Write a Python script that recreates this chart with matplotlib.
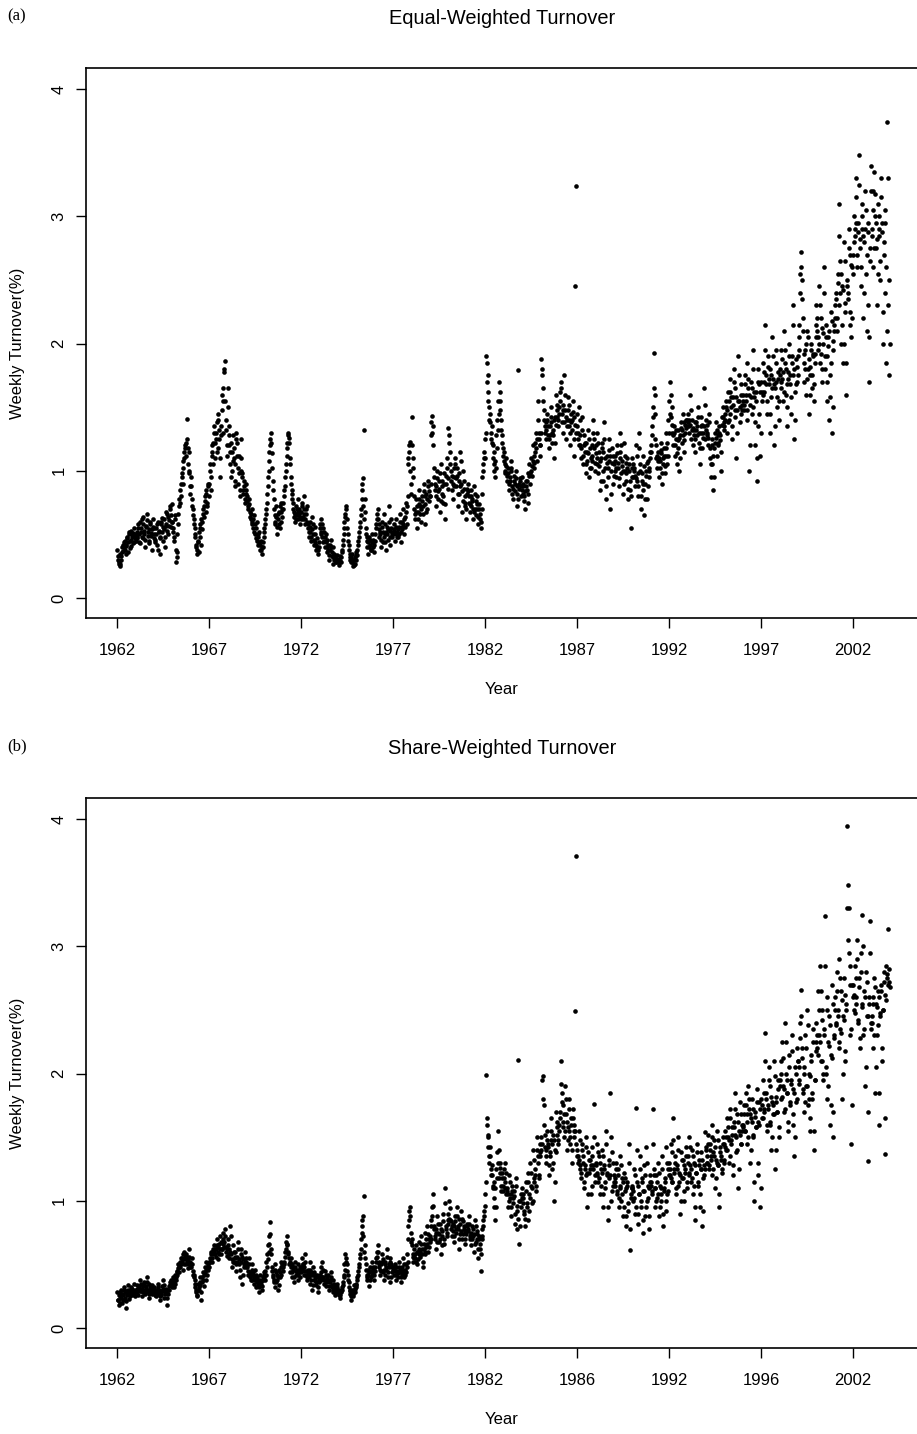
import matplotlib
matplotlib.use("Agg")
import matplotlib.pyplot as plt
import numpy as np

plt.rcParams["font.family"] = ["Liberation Sans", "DejaVu Sans"]

# weekly turnover (%), one row per year (1962-2003)
# "_rows" hold the first week of each fortnight, "_alt_rows" the second
years = list(range(1962, 2004))

equal_rows = [
    [0.38, 0.33, 0.27, 0.25, 0.30, 0.36, 0.42, 0.40, 0.45, 0.35, 0.41, 0.48, 0.44, 0.52, 0.39, 0.46, 0.50, 0.43, 0.55, 0.47],
    [0.45, 0.52, 0.48, 0.58, 0.50, 0.43, 0.55, 0.62, 0.47, 0.53, 0.40, 0.57, 0.66, 0.49, 0.54, 0.45, 0.60, 0.51, 0.38, 0.56],
    [0.50, 0.46, 0.55, 0.42, 0.60, 0.52, 0.35, 0.48, 0.58, 0.63, 0.45, 0.54, 0.40, 0.57, 0.66, 0.50, 0.61, 0.70, 0.56, 0.74],
    [0.60, 0.52, 0.45, 0.65, 0.28, 0.36, 0.58, 0.72, 0.85, 0.80, 0.95, 1.02, 0.90, 1.10, 1.18, 1.22, 1.41, 1.05, 1.15, 0.88],
    [0.95, 0.78, 0.70, 0.62, 0.55, 0.48, 0.40, 0.35, 0.45, 0.52, 0.58, 0.42, 0.60, 0.66, 0.72, 0.80, 0.68, 0.85, 0.75, 0.90],
    [0.90, 1.05, 0.85, 1.15, 1.22, 1.30, 1.10, 1.25, 1.38, 1.18, 1.45, 1.32, 0.95, 1.28, 1.60, 1.55, 1.80, 1.86, 1.40, 1.20],
    [1.65, 1.35, 1.20, 1.05, 0.95, 1.15, 1.28, 1.10, 0.88, 1.30, 1.22, 1.02, 1.12, 0.80, 1.00, 1.25, 0.98, 0.85, 0.92, 0.78],
    [0.85, 0.80, 0.72, 0.78, 0.68, 0.62, 0.70, 0.58, 0.55, 0.65, 0.50, 0.47, 0.60, 0.42, 0.52, 0.38, 0.45, 0.35, 0.40, 0.48],
    [0.55, 0.62, 0.70, 0.82, 0.95, 1.08, 1.20, 1.30, 1.14, 0.92, 0.78, 0.65, 0.58, 0.72, 0.50, 0.62, 0.68, 0.55, 0.75, 0.64],
    [0.70, 0.80, 0.88, 1.00, 1.12, 1.22, 1.30, 1.26, 1.05, 0.90, 0.82, 0.75, 0.68, 0.60, 0.72, 0.65, 0.78, 0.62, 0.70, 0.58],
    [0.68, 0.75, 0.62, 0.80, 0.58, 0.66, 0.72, 0.55, 0.48, 0.60, 0.52, 0.45, 0.64, 0.50, 0.42, 0.56, 0.38, 0.47, 0.35, 0.44],
    [0.58, 0.62, 0.52, 0.48, 0.55, 0.45, 0.40, 0.50, 0.36, 0.42, 0.30, 0.38, 0.46, 0.33, 0.27, 0.40, 0.35, 0.30, 0.28, 0.34],
    [0.30, 0.26, 0.33, 0.28, 0.36, 0.42, 0.50, 0.60, 0.66, 0.72, 0.55, 0.45, 0.38, 0.32, 0.28, 0.35, 0.25, 0.30, 0.27, 0.34],
    [0.30, 0.38, 0.45, 0.52, 0.60, 0.70, 0.85, 0.94, 1.32, 0.78, 0.55, 0.45, 0.40, 0.35, 0.48, 0.42, 0.38, 0.50, 0.44, 0.36],
    [0.45, 0.55, 0.62, 0.70, 0.58, 0.48, 0.52, 0.40, 0.60, 0.44, 0.66, 0.50, 0.38, 0.56, 0.46, 0.72, 0.53, 0.42, 0.62, 0.48],
    [0.50, 0.58, 0.45, 0.62, 0.52, 0.48, 0.56, 0.66, 0.44, 0.60, 0.54, 0.70, 0.50, 0.64, 0.75, 0.58, 1.05, 1.15, 1.23, 0.82],
    [1.42, 1.10, 0.95, 0.70, 0.62, 0.78, 0.55, 0.68, 0.85, 0.72, 0.60, 0.80, 0.66, 0.90, 0.74, 0.58, 0.82, 0.70, 0.88, 0.76],
    [0.80, 1.28, 1.43, 1.35, 0.95, 0.85, 0.72, 0.88, 1.00, 0.78, 0.92, 0.68, 1.05, 0.82, 0.75, 0.98, 0.62, 0.90, 1.10, 0.86],
    [1.34, 1.22, 1.05, 0.92, 0.85, 0.78, 0.95, 1.10, 0.88, 1.02, 0.72, 0.98, 0.82, 1.15, 0.90, 0.68, 1.00, 0.86, 0.75, 0.62],
    [0.82, 0.90, 0.75, 0.68, 0.85, 0.72, 0.78, 0.62, 0.88, 0.70, 0.65, 0.80, 0.58, 0.74, 0.66, 0.55, 0.70, 0.95, 1.05, 1.15],
    [1.10, 1.90, 1.85, 1.62, 1.50, 1.45, 1.25, 1.35, 1.20, 1.05, 1.15, 0.95, 1.28, 1.40, 1.55, 1.70, 1.48, 1.32, 1.22, 1.12],
    [1.15, 1.05, 0.98, 1.10, 0.92, 1.02, 0.85, 0.95, 1.08, 0.88, 0.78, 0.96, 0.90, 1.00, 0.82, 0.72, 1.79, 0.86, 0.94, 0.80],
    [0.95, 0.88, 0.80, 0.70, 0.92, 0.85, 0.98, 0.75, 1.05, 0.90, 1.10, 0.96, 1.20, 1.02, 1.15, 1.30, 1.08, 1.55, 1.25, 1.12],
    [1.20, 1.88, 1.80, 1.55, 1.40, 1.30, 1.25, 1.45, 1.35, 1.18, 1.28, 1.50, 1.38, 1.22, 1.32, 1.10, 1.42, 1.60, 1.48, 1.35],
    [1.45, 1.62, 1.70, 1.38, 1.52, 1.30, 1.75, 1.48, 1.25, 1.40, 1.58, 1.35, 1.20, 1.45, 1.32, 1.55, 1.12, 1.42, 2.45, 3.24],
    [1.35, 1.25, 1.50, 1.20, 1.10, 1.42, 1.05, 1.28, 1.15, 0.98, 1.22, 1.08, 1.32, 0.95, 1.18, 1.02, 1.12, 1.40, 1.25, 1.00],
    [1.20, 1.05, 1.30, 0.98, 1.15, 0.85, 1.10, 1.22, 0.92, 1.38, 1.02, 0.78, 1.12, 0.95, 1.25, 1.08, 0.70, 1.00, 1.18, 0.90],
    [1.05, 1.12, 0.95, 1.20, 1.02, 0.88, 1.15, 1.30, 0.98, 1.08, 0.82, 1.22, 1.00, 0.92, 1.10, 0.78, 1.05, 0.85, 0.55, 0.95],
    [1.10, 0.95, 1.02, 0.88, 1.20, 0.92, 0.80, 1.30, 1.05, 0.70, 0.98, 0.85, 1.12, 0.65, 0.90, 1.00, 0.78, 1.08, 0.95, 1.15],
    [1.20, 1.35, 1.50, 1.93, 1.60, 1.25, 1.10, 1.02, 1.15, 0.95, 1.08, 1.22, 0.90, 1.05, 1.18, 0.98, 1.12, 1.30, 1.05, 1.40],
    [1.55, 1.70, 1.42, 1.30, 1.20, 1.35, 1.12, 1.25, 1.05, 1.18, 1.32, 1.00, 1.28, 1.38, 1.22, 1.45, 1.15, 1.30, 1.40, 1.35],
    [1.45, 1.35, 1.30, 1.60, 1.25, 1.40, 1.20, 1.32, 1.15, 1.38, 1.28, 1.50, 1.22, 1.05, 1.35, 1.42, 1.18, 1.30, 1.65, 1.25],
    [1.40, 1.30, 1.20, 1.45, 1.10, 0.95, 1.25, 1.05, 0.85, 1.18, 1.30, 1.38, 1.12, 1.22, 1.35, 1.28, 1.00, 1.42, 1.50, 1.32],
    [1.35, 1.45, 1.55, 1.30, 1.62, 1.40, 1.72, 1.50, 1.25, 1.58, 1.80, 1.42, 1.65, 1.10, 1.48, 1.90, 1.55, 1.38, 1.68, 1.52],
    [1.60, 1.48, 1.75, 1.55, 1.40, 1.85, 1.65, 1.00, 1.52, 1.70, 1.45, 1.95, 1.58, 1.20, 1.62, 0.92, 1.80, 1.35, 1.68, 1.12],
    [1.70, 1.55, 1.85, 1.62, 2.15, 1.75, 1.45, 1.90, 1.68, 1.30, 1.80, 1.58, 2.05, 1.72, 1.20, 1.65, 1.95, 1.50, 1.78, 1.40],
    [1.80, 1.65, 1.95, 1.72, 1.55, 2.10, 1.85, 1.60, 1.35, 1.78, 2.00, 1.68, 1.45, 1.90, 2.30, 1.75, 1.25, 1.62, 1.88, 1.70],
    [1.90, 2.05, 2.55, 2.72, 2.50, 2.20, 1.85, 1.70, 1.95, 1.60, 2.10, 1.80, 1.45, 1.75, 2.00, 1.65, 1.90, 1.55, 1.85, 2.15],
    [2.30, 2.10, 1.95, 2.45, 1.85, 2.20, 1.70, 2.00, 2.60, 1.80, 2.15, 1.55, 1.90, 2.05, 1.40, 1.75, 2.25, 1.30, 1.95, 2.10],
    [2.20, 2.40, 2.10, 2.55, 3.10, 2.30, 2.65, 2.00, 2.45, 1.85, 2.80, 2.25, 1.60, 2.50, 2.35, 2.90, 2.15, 2.70, 2.05, 2.60],
    [2.70, 3.00, 2.85, 3.30, 2.60, 2.95, 3.48, 2.75, 2.45, 3.10, 2.90, 2.20, 2.80, 3.20, 2.55, 2.10, 2.95, 1.70, 2.65, 3.40],
    [2.90, 3.20, 2.60, 3.35, 3.00, 2.75, 2.30, 3.10, 2.85, 2.50, 3.30, 2.95, 2.00, 2.70, 3.05, 2.40, 1.85, 3.74, 2.30, 1.75],
]

equal_alt_rows = [
    [0.30, 0.28, 0.35, 0.27, 0.33, 0.40, 0.37, 0.44, 0.38, 0.42, 0.47, 0.36, 0.50, 0.45, 0.41, 0.53, 0.48, 0.51, 0.44, 0.49],
    [0.50, 0.47, 0.55, 0.44, 0.60, 0.52, 0.48, 0.58, 0.64, 0.50, 0.46, 0.56, 0.61, 0.52, 0.43, 0.58, 0.49, 0.54, 0.62, 0.47],
    [0.55, 0.44, 0.50, 0.58, 0.38, 0.53, 0.47, 0.60, 0.52, 0.56, 0.62, 0.48, 0.58, 0.68, 0.53, 0.64, 0.57, 0.72, 0.65, 0.60],
    [0.55, 0.48, 0.62, 0.38, 0.32, 0.50, 0.66, 0.78, 0.75, 0.90, 0.98, 1.08, 1.15, 1.20, 1.12, 1.25, 1.18, 0.98, 1.00, 0.82],
    [0.88, 0.72, 0.65, 0.58, 0.50, 0.42, 0.38, 0.44, 0.36, 0.55, 0.48, 0.62, 0.54, 0.70, 0.64, 0.76, 0.82, 0.72, 0.88, 0.80],
    [1.00, 0.95, 1.12, 1.20, 1.05, 1.35, 1.22, 1.30, 1.15, 1.40, 1.25, 1.10, 1.35, 1.48, 1.30, 1.65, 1.78, 1.55, 1.32, 1.12],
    [1.50, 1.28, 1.15, 1.22, 1.00, 1.08, 1.18, 0.92, 1.05, 1.25, 1.12, 0.90, 0.98, 0.85, 1.10, 0.95, 0.82, 0.88, 0.75, 0.82],
    [0.90, 0.76, 0.70, 0.74, 0.64, 0.66, 0.60, 0.62, 0.52, 0.58, 0.55, 0.45, 0.50, 0.48, 0.44, 0.42, 0.38, 0.40, 0.44, 0.52],
    [0.58, 0.66, 0.75, 0.88, 1.00, 1.15, 1.25, 1.22, 1.02, 0.85, 0.70, 0.60, 0.64, 0.56, 0.66, 0.58, 0.72, 0.60, 0.68, 0.70],
    [0.75, 0.85, 0.95, 1.05, 1.18, 1.28, 1.22, 1.10, 0.95, 0.85, 0.78, 0.70, 0.64, 0.66, 0.62, 0.70, 0.68, 0.66, 0.64, 0.62],
    [0.72, 0.64, 0.70, 0.66, 0.62, 0.70, 0.60, 0.58, 0.52, 0.56, 0.48, 0.54, 0.58, 0.46, 0.50, 0.44, 0.42, 0.40, 0.38, 0.40],
    [0.55, 0.50, 0.58, 0.44, 0.52, 0.48, 0.44, 0.46, 0.40, 0.38, 0.34, 0.42, 0.40, 0.36, 0.32, 0.30, 0.32, 0.28, 0.31, 0.30],
    [0.28, 0.30, 0.29, 0.32, 0.38, 0.46, 0.55, 0.64, 0.70, 0.62, 0.50, 0.42, 0.35, 0.30, 0.32, 0.28, 0.30, 0.26, 0.32, 0.36],
    [0.34, 0.42, 0.48, 0.56, 0.65, 0.78, 0.90, 0.72, 0.62, 0.68, 0.50, 0.48, 0.44, 0.40, 0.46, 0.38, 0.44, 0.46, 0.40, 0.42],
    [0.50, 0.58, 0.66, 0.62, 0.54, 0.50, 0.46, 0.56, 0.52, 0.48, 0.58, 0.44, 0.52, 0.50, 0.54, 0.60, 0.48, 0.55, 0.50, 0.52],
    [0.54, 0.52, 0.50, 0.56, 0.48, 0.54, 0.50, 0.60, 0.52, 0.56, 0.58, 0.62, 0.56, 0.68, 0.72, 0.80, 1.10, 1.20, 1.00, 0.90],
    [1.20, 1.02, 0.80, 0.66, 0.68, 0.72, 0.62, 0.74, 0.78, 0.66, 0.70, 0.76, 0.72, 0.84, 0.80, 0.68, 0.78, 0.92, 0.84, 0.80],
    [0.90, 1.38, 1.30, 1.20, 1.02, 0.90, 0.80, 0.94, 0.84, 0.86, 0.98, 0.76, 0.92, 0.88, 0.80, 0.90, 0.74, 0.96, 1.02, 0.94],
    [1.28, 1.15, 1.00, 0.96, 0.90, 0.88, 1.02, 1.05, 0.94, 0.96, 0.82, 0.92, 0.88, 1.08, 0.84, 0.76, 0.92, 0.80, 0.72, 0.70],
    [0.86, 0.84, 0.80, 0.74, 0.80, 0.76, 0.70, 0.68, 0.82, 0.76, 0.70, 0.74, 0.64, 0.70, 0.62, 0.60, 0.82, 1.00, 1.10, 1.25],
    [1.30, 1.70, 1.75, 1.55, 1.40, 1.38, 1.30, 1.22, 1.10, 1.00, 1.08, 1.02, 1.18, 1.32, 1.45, 1.62, 1.55, 1.40, 1.28, 1.18],
    [1.08, 1.00, 1.04, 0.96, 0.98, 0.90, 0.92, 1.02, 1.00, 0.82, 0.86, 0.92, 0.84, 0.94, 0.88, 0.78, 0.90, 0.92, 0.88, 0.85],
    [0.90, 0.82, 0.76, 0.84, 0.88, 0.92, 0.82, 0.96, 0.98, 1.00, 1.04, 1.08, 1.12, 1.06, 1.22, 1.18, 1.25, 1.40, 1.30, 1.20],
    [1.30, 1.75, 1.65, 1.48, 1.35, 1.38, 1.32, 1.40, 1.28, 1.25, 1.35, 1.42, 1.30, 1.28, 1.40, 1.22, 1.36, 1.52, 1.42, 1.40],
    [1.50, 1.55, 1.65, 1.45, 1.48, 1.38, 1.60, 1.42, 1.35, 1.48, 1.52, 1.40, 1.30, 1.38, 1.40, 1.46, 1.25, 1.36, 1.30, 1.45],
    [1.30, 1.20, 1.40, 1.28, 1.18, 1.32, 1.12, 1.20, 1.22, 1.05, 1.15, 1.14, 1.25, 1.02, 1.10, 1.08, 1.20, 1.30, 1.18, 1.06],
    [1.14, 1.10, 1.22, 1.04, 1.08, 0.92, 1.18, 1.15, 1.00, 1.25, 1.10, 0.88, 1.06, 1.02, 1.16, 1.12, 0.82, 1.06, 1.12, 0.96],
    [1.00, 1.08, 1.02, 1.14, 1.06, 0.94, 1.10, 1.20, 1.04, 1.00, 0.90, 1.12, 1.06, 0.98, 1.02, 0.86, 1.00, 0.92, 0.80, 1.02],
    [1.05, 1.00, 0.96, 0.94, 1.12, 0.98, 0.88, 1.18, 1.00, 0.80, 0.92, 0.90, 1.04, 0.78, 0.96, 1.06, 0.88, 1.02, 1.00, 1.10],
    [1.15, 1.28, 1.42, 1.65, 1.45, 1.20, 1.12, 1.08, 1.10, 1.02, 1.14, 1.16, 0.98, 1.10, 1.12, 1.04, 1.18, 1.22, 1.12, 1.30],
    [1.45, 1.60, 1.50, 1.36, 1.28, 1.30, 1.20, 1.32, 1.14, 1.24, 1.26, 1.10, 1.34, 1.32, 1.28, 1.38, 1.24, 1.36, 1.34, 1.40],
    [1.38, 1.40, 1.36, 1.48, 1.32, 1.34, 1.28, 1.38, 1.25, 1.32, 1.35, 1.42, 1.30, 1.18, 1.30, 1.36, 1.26, 1.35, 1.52, 1.32],
    [1.36, 1.28, 1.26, 1.38, 1.18, 1.05, 1.20, 1.12, 0.95, 1.22, 1.26, 1.32, 1.20, 1.28, 1.30, 1.24, 1.15, 1.36, 1.42, 1.38],
    [1.40, 1.50, 1.48, 1.38, 1.55, 1.45, 1.62, 1.58, 1.35, 1.52, 1.70, 1.48, 1.58, 1.30, 1.55, 1.75, 1.50, 1.45, 1.60, 1.48],
    [1.55, 1.52, 1.68, 1.60, 1.48, 1.72, 1.60, 1.20, 1.58, 1.65, 1.50, 1.80, 1.62, 1.38, 1.55, 1.10, 1.70, 1.45, 1.62, 1.30],
    [1.62, 1.60, 1.78, 1.70, 1.95, 1.68, 1.55, 1.82, 1.72, 1.45, 1.75, 1.65, 1.90, 1.68, 1.35, 1.70, 1.85, 1.58, 1.72, 1.55],
    [1.75, 1.70, 1.88, 1.78, 1.62, 1.95, 1.80, 1.68, 1.50, 1.72, 1.90, 1.75, 1.58, 1.85, 2.15, 1.80, 1.40, 1.68, 1.82, 1.75],
    [1.95, 2.15, 2.40, 2.60, 2.35, 2.10, 1.92, 1.80, 2.00, 1.72, 2.05, 1.88, 1.60, 1.82, 1.95, 1.75, 1.92, 1.68, 1.92, 2.05],
    [2.20, 2.05, 2.00, 2.30, 1.92, 2.12, 1.80, 2.08, 2.40, 1.90, 2.05, 1.70, 1.98, 2.10, 1.58, 1.85, 2.18, 1.50, 2.02, 2.15],
    [2.30, 2.35, 2.20, 2.48, 2.85, 2.40, 2.55, 2.15, 2.42, 2.00, 2.65, 2.32, 1.85, 2.45, 2.40, 2.75, 2.25, 2.62, 2.20, 2.55],
    [2.80, 2.90, 2.95, 3.15, 2.70, 2.88, 3.25, 2.82, 2.60, 3.00, 2.85, 2.40, 2.90, 3.05, 2.70, 2.30, 2.88, 2.05, 2.75, 3.20],
    [2.85, 3.05, 2.75, 3.18, 2.95, 2.82, 2.55, 3.00, 2.90, 2.65, 3.15, 2.88, 2.25, 2.80, 2.95, 2.60, 2.10, 3.30, 2.50, 2.00],
]

share_rows = [
    [0.28, 0.22, 0.18, 0.25, 0.30, 0.20, 0.26, 0.32, 0.24, 0.16, 0.29, 0.27, 0.34, 0.23, 0.30, 0.26, 0.31, 0.28, 0.35, 0.25],
    [0.30, 0.34, 0.28, 0.26, 0.32, 0.38, 0.29, 0.25, 0.33, 0.36, 0.27, 0.31, 0.40, 0.28, 0.24, 0.35, 0.30, 0.32, 0.27, 0.29],
    [0.32, 0.28, 0.25, 0.30, 0.35, 0.27, 0.22, 0.29, 0.26, 0.33, 0.38, 0.24, 0.28, 0.31, 0.18, 0.27, 0.30, 0.34, 0.36, 0.32],
    [0.35, 0.40, 0.32, 0.42, 0.38, 0.45, 0.50, 0.44, 0.48, 0.55, 0.52, 0.58, 0.46, 0.60, 0.54, 0.50, 0.56, 0.47, 0.62, 0.52],
    [0.50, 0.55, 0.45, 0.42, 0.38, 0.32, 0.28, 0.25, 0.35, 0.30, 0.40, 0.22, 0.36, 0.44, 0.33, 0.48, 0.38, 0.52, 0.42, 0.46],
    [0.48, 0.55, 0.60, 0.52, 0.58, 0.65, 0.62, 0.56, 0.70, 0.60, 0.54, 0.66, 0.72, 0.58, 0.62, 0.75, 0.68, 0.78, 0.64, 0.57],
    [0.70, 0.62, 0.55, 0.80, 0.58, 0.48, 0.65, 0.52, 0.60, 0.45, 0.56, 0.68, 0.50, 0.40, 0.58, 0.62, 0.35, 0.54, 0.48, 0.60],
    [0.52, 0.48, 0.45, 0.55, 0.40, 0.42, 0.50, 0.38, 0.44, 0.35, 0.46, 0.32, 0.40, 0.36, 0.28, 0.42, 0.34, 0.30, 0.38, 0.44],
    [0.40, 0.45, 0.52, 0.58, 0.65, 0.72, 0.83, 0.62, 0.48, 0.42, 0.36, 0.50, 0.32, 0.44, 0.38, 0.30, 0.46, 0.40, 0.52, 0.48],
    [0.45, 0.52, 0.60, 0.68, 0.72, 0.65, 0.58, 0.50, 0.44, 0.55, 0.40, 0.48, 0.36, 0.52, 0.42, 0.46, 0.38, 0.50, 0.44, 0.40],
    [0.48, 0.55, 0.50, 0.45, 0.58, 0.42, 0.38, 0.46, 0.40, 0.52, 0.35, 0.44, 0.30, 0.48, 0.38, 0.42, 0.34, 0.40, 0.28, 0.36],
    [0.42, 0.48, 0.38, 0.52, 0.40, 0.35, 0.45, 0.33, 0.38, 0.42, 0.30, 0.36, 0.44, 0.32, 0.28, 0.38, 0.34, 0.26, 0.30, 0.35],
    [0.30, 0.26, 0.24, 0.28, 0.32, 0.36, 0.42, 0.50, 0.58, 0.55, 0.45, 0.38, 0.32, 0.27, 0.22, 0.30, 0.25, 0.34, 0.28, 0.32],
    [0.35, 0.40, 0.45, 0.50, 0.58, 0.70, 0.80, 0.88, 1.04, 0.65, 0.50, 0.42, 0.38, 0.46, 0.33, 0.48, 0.40, 0.52, 0.44, 0.38],
    [0.45, 0.55, 0.60, 0.65, 0.52, 0.48, 0.42, 0.50, 0.58, 0.44, 0.38, 0.52, 0.46, 0.62, 0.40, 0.48, 0.55, 0.36, 0.50, 0.44],
    [0.48, 0.42, 0.50, 0.38, 0.45, 0.40, 0.52, 0.44, 0.36, 0.48, 0.42, 0.55, 0.40, 0.46, 0.50, 0.58, 0.80, 0.92, 0.95, 0.75],
    [0.70, 0.58, 0.52, 0.62, 0.55, 0.65, 0.50, 0.60, 0.68, 0.56, 0.72, 0.62, 0.48, 0.66, 0.58, 0.75, 0.64, 0.80, 0.60, 0.70],
    [0.72, 0.85, 0.95, 1.05, 0.80, 0.70, 0.78, 0.62, 0.88, 0.75, 0.68, 0.82, 0.58, 0.76, 0.90, 0.66, 1.10, 0.80, 0.72, 0.85],
    [0.90, 1.00, 0.85, 0.78, 0.72, 0.82, 0.68, 0.88, 0.75, 0.95, 0.80, 0.62, 0.86, 0.74, 0.92, 0.70, 0.84, 0.78, 0.66, 0.76],
    [0.82, 0.78, 0.88, 0.70, 0.75, 0.65, 0.80, 0.72, 0.60, 0.85, 0.68, 0.76, 0.55, 0.72, 0.62, 0.45, 0.70, 0.78, 0.85, 0.92],
    [1.05, 1.99, 1.65, 1.50, 1.35, 1.42, 1.20, 1.28, 1.10, 0.95, 1.15, 0.85, 1.25, 1.38, 1.55, 1.18, 1.30, 1.08, 1.22, 1.12],
    [1.25, 1.15, 1.30, 1.05, 1.10, 0.95, 1.20, 1.02, 0.88, 1.12, 0.98, 1.08, 0.82, 1.18, 0.92, 0.78, 2.11, 0.66, 1.00, 1.05],
    [1.10, 1.02, 0.90, 0.80, 1.15, 0.95, 1.22, 0.85, 1.05, 1.30, 1.12, 0.98, 1.40, 1.18, 1.25, 1.08, 1.50, 1.35, 1.20, 1.45],
    [1.35, 1.50, 1.95, 1.98, 1.60, 1.42, 1.30, 1.55, 1.45, 1.20, 1.38, 1.65, 1.48, 1.25, 1.52, 1.00, 1.40, 1.70, 1.58, 1.45],
    [1.55, 1.70, 2.10, 1.85, 1.62, 1.75, 1.50, 1.90, 1.68, 1.40, 1.58, 1.80, 1.45, 1.65, 1.30, 1.72, 1.55, 1.60, 2.49, 3.71],
    [1.40, 1.30, 1.55, 1.25, 1.18, 1.45, 1.35, 1.10, 1.28, 1.50, 1.20, 0.95, 1.38, 1.22, 1.32, 1.05, 1.42, 1.28, 1.76, 1.15],
    [1.30, 1.20, 1.45, 1.15, 1.35, 1.05, 1.25, 1.40, 0.95, 1.28, 1.10, 1.55, 1.22, 0.85, 1.32, 1.18, 1.85, 1.00, 1.38, 1.12],
    [1.20, 1.15, 1.30, 1.05, 1.25, 0.95, 1.10, 1.35, 1.00, 1.18, 0.88, 1.22, 1.08, 0.80, 1.15, 0.92, 1.45, 0.61, 1.02, 1.12],
    [1.10, 1.00, 1.25, 0.90, 1.73, 1.15, 0.82, 1.05, 1.35, 0.95, 1.18, 0.75, 1.08, 1.28, 0.88, 1.42, 1.00, 1.12, 0.78, 1.20],
    [1.15, 1.05, 1.72, 1.25, 1.10, 0.95, 1.20, 1.02, 1.30, 0.88, 1.12, 1.00, 1.35, 0.80, 1.08, 1.18, 0.92, 1.42, 1.05, 1.25],
    [1.30, 1.20, 1.45, 1.15, 1.65, 1.25, 1.35, 1.05, 1.28, 1.50, 1.12, 1.22, 0.90, 1.38, 1.18, 1.32, 1.00, 1.25, 1.42, 1.10],
    [1.35, 1.20, 1.50, 1.28, 1.15, 1.40, 1.05, 1.30, 0.85, 1.22, 1.45, 1.12, 1.32, 0.95, 1.25, 1.38, 0.80, 1.18, 1.28, 1.54],
    [1.40, 1.30, 1.52, 1.25, 1.45, 1.35, 1.60, 1.20, 1.38, 1.48, 1.10, 1.32, 1.55, 1.28, 0.95, 1.42, 1.35, 1.22, 1.50, 1.30],
    [1.45, 1.55, 1.40, 1.65, 1.50, 1.30, 1.72, 1.48, 1.58, 1.20, 1.62, 1.85, 1.52, 1.38, 1.68, 1.10, 1.55, 1.78, 1.45, 1.60],
    [1.60, 1.75, 1.55, 1.85, 1.68, 1.45, 1.90, 1.72, 1.30, 1.65, 1.80, 1.50, 1.00, 1.70, 1.58, 1.88, 1.20, 1.62, 1.78, 0.95],
    [1.80, 1.65, 1.95, 1.72, 2.32, 1.85, 1.55, 1.75, 2.05, 1.60, 1.90, 1.40, 1.78, 1.68, 2.10, 1.25, 1.82, 1.70, 1.95, 1.50],
    [1.95, 2.10, 1.80, 2.25, 1.90, 1.70, 2.40, 2.00, 1.85, 1.55, 2.15, 1.75, 1.95, 2.30, 1.60, 1.88, 1.35, 2.05, 1.78, 2.20],
    [2.10, 1.95, 2.40, 2.66, 2.20, 1.85, 2.05, 1.70, 2.30, 1.90, 2.50, 1.75, 2.00, 1.55, 2.15, 1.80, 2.35, 1.40, 1.95, 2.25],
    [2.40, 2.20, 2.65, 2.30, 2.85, 2.10, 2.50, 1.95, 2.35, 3.24, 2.00, 2.60, 1.80, 2.25, 2.45, 1.60, 2.15, 2.70, 1.50, 2.30],
    [2.60, 2.40, 2.80, 2.50, 2.20, 2.90, 2.35, 2.65, 1.80, 2.45, 2.75, 2.10, 2.55, 3.95, 3.48, 3.30, 2.85, 2.30, 1.45, 2.70],
    [2.70, 2.50, 2.85, 2.60, 3.05, 2.40, 2.75, 2.20, 2.95, 2.55, 3.25, 2.30, 2.65, 1.90, 2.80, 2.45, 1.31, 2.60, 3.20, 2.35],
    [2.40, 2.60, 2.20, 2.75, 1.85, 2.55, 2.30, 2.65, 1.60, 2.45, 2.70, 2.10, 2.50, 2.80, 1.37, 2.62, 2.85, 2.78, 3.14, 2.72],
]

share_alt_rows = [
    [0.22, 0.26, 0.20, 0.28, 0.24, 0.27, 0.22, 0.30, 0.28, 0.21, 0.26, 0.30, 0.28, 0.25, 0.27, 0.32, 0.28, 0.30, 0.26, 0.29],
    [0.28, 0.31, 0.30, 0.33, 0.29, 0.35, 0.31, 0.28, 0.30, 0.34, 0.29, 0.33, 0.36, 0.30, 0.27, 0.32, 0.29, 0.34, 0.30, 0.31],
    [0.30, 0.26, 0.28, 0.27, 0.32, 0.30, 0.25, 0.27, 0.29, 0.31, 0.34, 0.27, 0.30, 0.28, 0.24, 0.30, 0.33, 0.36, 0.38, 0.35],
    [0.38, 0.36, 0.35, 0.40, 0.42, 0.44, 0.47, 0.48, 0.52, 0.50, 0.55, 0.54, 0.50, 0.56, 0.58, 0.52, 0.54, 0.50, 0.56, 0.48],
    [0.48, 0.50, 0.42, 0.40, 0.35, 0.30, 0.26, 0.30, 0.32, 0.34, 0.36, 0.28, 0.40, 0.38, 0.42, 0.44, 0.46, 0.48, 0.50, 0.52],
    [0.52, 0.58, 0.55, 0.60, 0.62, 0.60, 0.58, 0.62, 0.65, 0.64, 0.58, 0.62, 0.68, 0.62, 0.66, 0.70, 0.64, 0.72, 0.60, 0.62],
    [0.65, 0.58, 0.60, 0.72, 0.54, 0.52, 0.60, 0.56, 0.55, 0.50, 0.52, 0.62, 0.54, 0.46, 0.52, 0.56, 0.42, 0.50, 0.52, 0.55],
    [0.48, 0.50, 0.42, 0.50, 0.44, 0.38, 0.46, 0.42, 0.40, 0.38, 0.42, 0.36, 0.38, 0.34, 0.32, 0.38, 0.36, 0.33, 0.40, 0.42],
    [0.38, 0.42, 0.48, 0.54, 0.60, 0.66, 0.74, 0.58, 0.45, 0.40, 0.38, 0.46, 0.36, 0.42, 0.40, 0.34, 0.44, 0.42, 0.48, 0.50],
    [0.48, 0.50, 0.56, 0.62, 0.66, 0.60, 0.55, 0.52, 0.48, 0.50, 0.44, 0.46, 0.40, 0.48, 0.45, 0.44, 0.42, 0.46, 0.48, 0.44],
    [0.46, 0.50, 0.48, 0.42, 0.52, 0.45, 0.40, 0.44, 0.42, 0.46, 0.38, 0.42, 0.34, 0.44, 0.40, 0.38, 0.36, 0.42, 0.32, 0.38],
    [0.40, 0.44, 0.40, 0.46, 0.38, 0.38, 0.42, 0.36, 0.40, 0.38, 0.33, 0.38, 0.40, 0.34, 0.30, 0.35, 0.32, 0.28, 0.32, 0.30],
    [0.28, 0.27, 0.26, 0.30, 0.30, 0.34, 0.40, 0.46, 0.52, 0.50, 0.42, 0.36, 0.30, 0.29, 0.25, 0.28, 0.27, 0.30, 0.31, 0.34],
    [0.38, 0.42, 0.48, 0.55, 0.62, 0.75, 0.85, 0.72, 0.60, 0.55, 0.46, 0.40, 0.42, 0.44, 0.38, 0.45, 0.42, 0.48, 0.46, 0.42],
    [0.48, 0.52, 0.56, 0.60, 0.50, 0.46, 0.45, 0.52, 0.54, 0.46, 0.42, 0.50, 0.48, 0.56, 0.44, 0.50, 0.52, 0.40, 0.48, 0.46],
    [0.46, 0.45, 0.48, 0.42, 0.44, 0.43, 0.48, 0.46, 0.40, 0.46, 0.44, 0.50, 0.42, 0.44, 0.48, 0.52, 0.70, 0.85, 0.88, 0.68],
    [0.65, 0.56, 0.55, 0.58, 0.52, 0.60, 0.54, 0.58, 0.62, 0.60, 0.66, 0.58, 0.52, 0.62, 0.60, 0.70, 0.66, 0.74, 0.64, 0.68],
    [0.70, 0.80, 0.88, 0.96, 0.78, 0.72, 0.75, 0.68, 0.82, 0.74, 0.70, 0.78, 0.65, 0.72, 0.84, 0.70, 0.98, 0.78, 0.75, 0.82],
    [0.86, 0.94, 0.84, 0.80, 0.76, 0.80, 0.72, 0.84, 0.78, 0.88, 0.78, 0.70, 0.82, 0.76, 0.86, 0.74, 0.80, 0.76, 0.70, 0.74],
    [0.80, 0.76, 0.82, 0.72, 0.74, 0.70, 0.78, 0.74, 0.66, 0.80, 0.70, 0.74, 0.62, 0.70, 0.66, 0.58, 0.72, 0.80, 0.88, 0.96],
    [1.15, 1.60, 1.52, 1.42, 1.30, 1.35, 1.25, 1.20, 1.12, 1.02, 1.10, 0.95, 1.18, 1.30, 1.40, 1.22, 1.26, 1.12, 1.18, 1.08],
    [1.18, 1.10, 1.22, 1.08, 1.05, 1.00, 1.15, 1.05, 0.95, 1.08, 1.02, 1.04, 0.90, 1.12, 0.96, 0.86, 1.00, 0.80, 0.95, 1.02],
    [1.05, 0.98, 0.92, 0.86, 1.08, 0.98, 1.15, 0.92, 1.02, 1.22, 1.10, 1.00, 1.32, 1.15, 1.20, 1.12, 1.40, 1.30, 1.18, 1.38],
    [1.40, 1.45, 1.80, 1.75, 1.52, 1.40, 1.35, 1.48, 1.42, 1.28, 1.35, 1.55, 1.45, 1.30, 1.48, 1.15, 1.38, 1.62, 1.52, 1.48],
    [1.60, 1.65, 1.92, 1.78, 1.58, 1.68, 1.55, 1.80, 1.62, 1.48, 1.55, 1.72, 1.50, 1.60, 1.40, 1.65, 1.50, 1.55, 1.45, 1.35],
    [1.35, 1.32, 1.48, 1.28, 1.22, 1.40, 1.30, 1.15, 1.25, 1.42, 1.22, 1.05, 1.32, 1.25, 1.28, 1.12, 1.35, 1.25, 1.50, 1.20],
    [1.28, 1.22, 1.38, 1.18, 1.30, 1.12, 1.22, 1.35, 1.05, 1.25, 1.15, 1.45, 1.20, 0.95, 1.28, 1.20, 1.50, 1.08, 1.30, 1.15],
    [1.18, 1.12, 1.25, 1.08, 1.20, 1.02, 1.12, 1.28, 1.05, 1.15, 0.95, 1.18, 1.10, 0.88, 1.12, 0.98, 1.30, 0.78, 1.05, 1.10],
    [1.08, 1.02, 1.20, 0.95, 1.40, 1.12, 0.90, 1.05, 1.25, 1.00, 1.15, 0.85, 1.08, 1.20, 0.95, 1.30, 1.02, 1.10, 0.88, 1.15],
    [1.12, 1.08, 1.45, 1.20, 1.10, 1.00, 1.15, 1.05, 1.22, 0.95, 1.10, 1.05, 1.25, 0.90, 1.10, 1.15, 1.00, 1.30, 1.08, 1.20],
    [1.25, 1.18, 1.38, 1.15, 1.48, 1.22, 1.30, 1.10, 1.25, 1.40, 1.15, 1.20, 1.00, 1.32, 1.18, 1.28, 1.08, 1.22, 1.35, 1.15],
    [1.30, 1.22, 1.42, 1.25, 1.18, 1.35, 1.12, 1.28, 0.95, 1.22, 1.38, 1.15, 1.28, 1.05, 1.25, 1.32, 0.92, 1.20, 1.25, 1.42],
    [1.35, 1.30, 1.45, 1.28, 1.40, 1.32, 1.50, 1.25, 1.35, 1.42, 1.18, 1.30, 1.48, 1.28, 1.05, 1.38, 1.32, 1.25, 1.45, 1.32],
    [1.42, 1.50, 1.40, 1.58, 1.48, 1.35, 1.65, 1.45, 1.52, 1.28, 1.58, 1.72, 1.50, 1.40, 1.62, 1.25, 1.52, 1.68, 1.45, 1.55],
    [1.58, 1.68, 1.55, 1.75, 1.62, 1.50, 1.80, 1.68, 1.40, 1.62, 1.72, 1.52, 1.15, 1.66, 1.58, 1.78, 1.30, 1.60, 1.72, 1.10],
    [1.75, 1.65, 1.85, 1.70, 2.10, 1.80, 1.60, 1.72, 1.95, 1.62, 1.82, 1.50, 1.75, 1.68, 1.98, 1.40, 1.78, 1.70, 1.88, 1.58],
    [1.90, 2.00, 1.82, 2.12, 1.88, 1.72, 2.25, 1.95, 1.85, 1.62, 2.05, 1.78, 1.92, 2.18, 1.68, 1.85, 1.50, 2.00, 1.80, 2.10],
    [2.05, 1.92, 2.28, 2.45, 2.12, 1.88, 2.00, 1.78, 2.20, 1.90, 2.38, 1.80, 1.98, 1.65, 2.10, 1.85, 2.25, 1.55, 1.95, 2.18],
    [2.30, 2.15, 2.50, 2.25, 2.65, 2.10, 2.42, 2.00, 2.30, 2.85, 2.05, 2.50, 1.90, 2.22, 2.38, 1.75, 2.12, 2.55, 1.70, 2.28],
    [2.50, 2.38, 2.65, 2.45, 2.25, 2.75, 2.32, 2.58, 2.00, 2.42, 2.62, 2.18, 2.50, 3.30, 3.05, 2.95, 2.70, 2.35, 1.75, 2.60],
    [2.62, 2.48, 2.75, 2.55, 2.90, 2.42, 2.68, 2.28, 2.80, 2.52, 3.00, 2.35, 2.60, 2.05, 2.72, 2.45, 1.70, 2.55, 2.95, 2.40],
    [2.45, 2.55, 2.30, 2.68, 2.05, 2.52, 2.38, 2.60, 1.85, 2.48, 2.65, 2.20, 2.50, 2.72, 1.65, 2.58, 2.75, 2.70, 2.82, 2.68],
]

tick_years = [1962, 1967, 1972, 1977, 1982, 1987, 1992, 1997, 2002]
labels_a = ["1962", "1967", "1972", "1977", "1982", "1987", "1992", "1997", "2002"]
labels_b = ["1962", "1967", "1972", "1977", "1982", "1986", "1992", "1996", "2002"]
y_ticks = [0, 1, 2, 3, 4]

W, H = 917, 1434
fig = plt.figure(figsize=(W / 100, H / 100), dpi=100)


def flatten(rows, offset):
    xs, ys = [], []
    for year, row in zip(years, rows):
        n = len(row)
        xs.extend(year + (np.arange(n) + offset) / n)
        ys.extend(row)
    return xs, ys


def panel(top_px, rows, alt_rows, labels, title, tag):
    ax = fig.add_axes([86 / W, 1 - (top_px + 550) / H, 834 / W, 550 / H])
    x1, y1 = flatten(rows, 0.25)
    x2, y2 = flatten(alt_rows, 0.75)
    ax.scatter(x1 + x2, y1 + y2, s=11, c="black", linewidths=0)
    ax.set_xlim(1960.315, 2005.64)
    ax.set_ylim(-0.157, 4.167)
    ax.set_xticks(tick_years, labels)
    ax.set_yticks(y_ticks)
    ax.tick_params(direction="out", length=7.2, width=1.0, labelsize=12)
    ax.tick_params(axis="x", pad=11)
    ax.tick_params(axis="y", pad=7, labelrotation=90)
    for lab in ax.get_yticklabels():
        lab.set_va("center")
    for sp in ax.spines.values():
        sp.set_linewidth(1.2)
    fig.text(502 / W, 1 - (top_px - 50) / H, title, ha="center", va="center", fontsize=14.4)
    fig.text(7 / W, 1 - (top_px - 52) / H, tag, ha="left", va="center",
             fontsize=12, family=["Liberation Serif", "DejaVu Serif"])
    fig.text(502 / W, 1 - (top_px + 622) / H, "Year", ha="center", va="center", fontsize=12)
    fig.text(18 / W, 1 - (top_px + 275) / H, "Weekly Turnover(%)", ha="center", va="center",
             rotation=90, fontsize=12)
    return ax


panel(68, equal_rows, equal_alt_rows, labels_a, "Equal-Weighted Turnover", "(a)")
panel(798, share_rows, share_alt_rows, labels_b, "Share-Weighted Turnover", "(b)")

fig.savefig("out.png", dpi=100)
